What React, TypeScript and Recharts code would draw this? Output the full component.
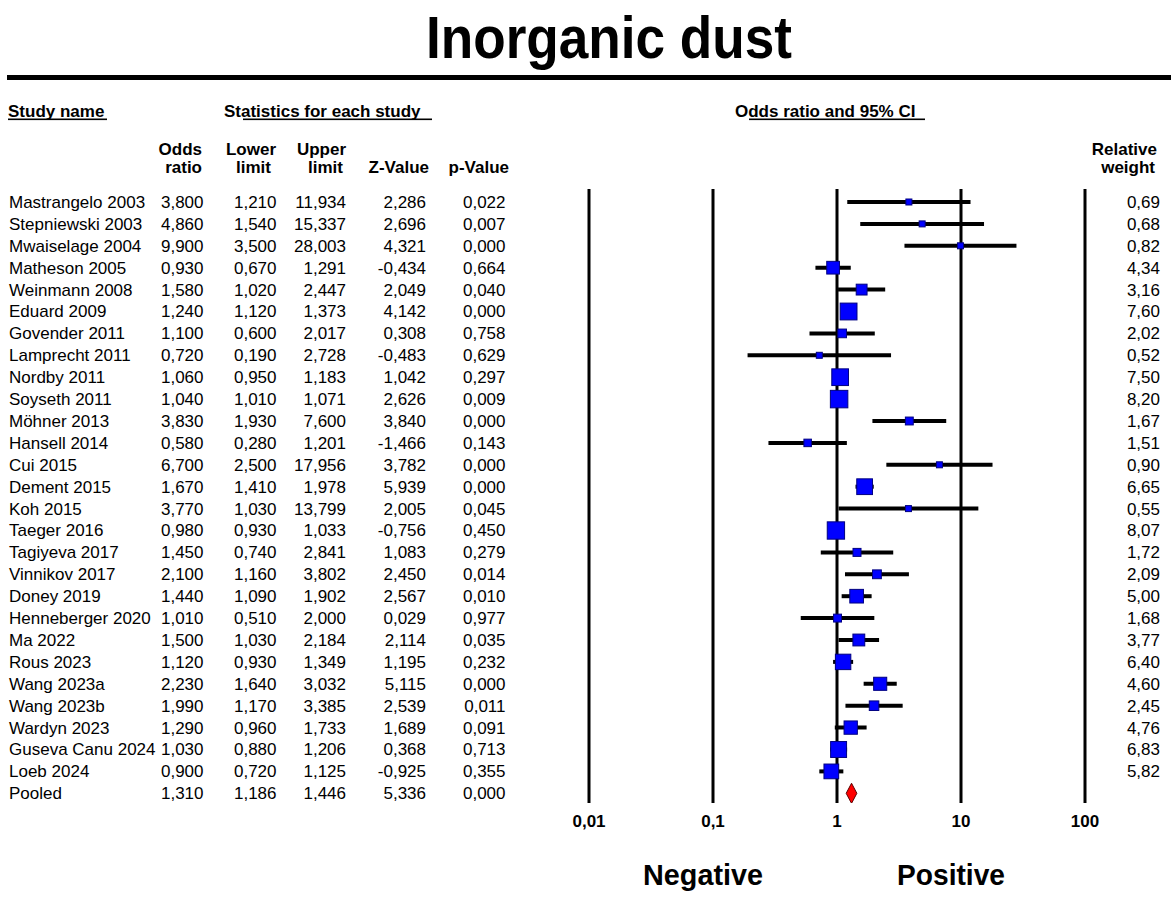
import React from 'react';
import { ScatterChart, Scatter, XAxis, YAxis, ErrorBar, ReferenceLine, Customized } from 'recharts';

const FONT = '"Liberation Sans", Arial, Helvetica, sans-serif';

const studies = [
  'Mastrangelo 2003', 'Stepniewski 2003', 'Mwaiselage 2004', 'Matheson 2005', 'Weinmann 2008',
  'Eduard 2009', 'Govender 2011', 'Lamprecht 2011', 'Nordby 2011', 'Soyseth 2011',
  'Möhner 2013', 'Hansell 2014', 'Cui 2015', 'Dement 2015', 'Koh 2015',
  'Taeger 2016', 'Tagiyeva 2017', 'Vinnikov 2017', 'Doney 2019', 'Henneberger 2020',
  'Ma 2022', 'Rous 2023', 'Wang 2023a', 'Wang 2023b', 'Wardyn 2023',
  'Guseva Canu 2024', 'Loeb 2024', 'Pooled',
];
const oddsRatio = [
  3.8, 4.86, 9.9, 0.93, 1.58, 1.24, 1.1, 0.72, 1.06, 1.04,
  3.83, 0.58, 6.7, 1.67, 3.77, 0.98, 1.45, 2.1, 1.44, 1.01,
  1.5, 1.12, 2.23, 1.99, 1.29, 1.03, 0.9, 1.31,
];
const lowerLimit = [
  1.21, 1.54, 3.5, 0.67, 1.02, 1.12, 0.6, 0.19, 0.95, 1.01,
  1.93, 0.28, 2.5, 1.41, 1.03, 0.93, 0.74, 1.16, 1.09, 0.51,
  1.03, 0.93, 1.64, 1.17, 0.96, 0.88, 0.72, 1.186,
];
const upperLimit = [
  11.934, 15.337, 28.003, 1.291, 2.447, 1.373, 2.017, 2.728, 1.183, 1.071,
  7.6, 1.201, 17.956, 1.978, 13.799, 1.033, 2.841, 3.802, 1.902, 2.0,
  2.184, 1.349, 3.032, 3.385, 1.733, 1.206, 1.125, 1.446,
];
const zValue = [
  2.286, 2.696, 4.321, -0.434, 2.049, 4.142, 0.308, -0.483, 1.042, 2.626,
  3.84, -1.466, 3.782, 5.939, 2.005, -0.756, 1.083, 2.45, 2.567, 0.029,
  2.114, 1.195, 5.115, 2.539, 1.689, 0.368, -0.925, 5.336,
];
const pValue = [
  0.022, 0.007, 0.0, 0.664, 0.04, 0.0, 0.758, 0.629, 0.297, 0.009,
  0.0, 0.143, 0.0, 0.0, 0.045, 0.45, 0.279, 0.014, 0.01, 0.977,
  0.035, 0.232, 0.0, 0.011, 0.091, 0.713, 0.355, 0.0,
];
const relWeight = [
  0.69, 0.68, 0.82, 4.34, 3.16, 7.6, 2.02, 0.52, 7.5, 8.2,
  1.67, 1.51, 0.9, 6.65, 0.55, 8.07, 1.72, 2.09, 5.0, 1.68,
  3.77, 6.4, 4.6, 2.45, 4.76, 6.83, 5.82,
];
const axisTicks = [0.01, 0.1, 1, 10, 100];

const rowIdx = studies.map((_, i) => i);
const pooled = studies.length - 1;

const studyRows = relWeight.map((w, i) => ({
  x: oddsRatio[i],
  y: i,
  err: [oddsRatio[i] - lowerLimit[i], upperLimit[i] - oddsRatio[i]],
  w,
}));

const diamond = [
  { x: lowerLimit[pooled], y: pooled },
  { x: oddsRatio[pooled], y: pooled - 0.46 },
  { x: upperLimit[pooled], y: pooled },
  { x: oddsRatio[pooled], y: pooled + 0.46 },
  { x: lowerLimit[pooled], y: pooled },
];

const fmt3 = (v: number) => v.toFixed(3).replace('.', ',');
const fmt2 = (v: number) => v.toFixed(2).replace('.', ',');

function RowTick(props: any) {
  const i = props.payload.value as number;
  const base = props.y + 6;
  return (
    <g fontFamily={FONT} fontSize={17} fill="#000">
      <text x={9} y={base}>{studies[i]}</text>
      <text x={203.5} y={base} textAnchor="end">{fmt3(oddsRatio[i])}</text>
      <text x={276.5} y={base} textAnchor="end">{fmt3(lowerLimit[i])}</text>
      <text x={346} y={base} textAnchor="end">{fmt3(upperLimit[i])}</text>
      <text x={426} y={base} textAnchor="end">{fmt3(zValue[i])}</text>
      <text x={505.5} y={base} textAnchor="end">{fmt3(pValue[i])}</text>
      {relWeight[i] !== undefined && (
        <text x={1160} y={base} textAnchor="end">{fmt2(relWeight[i])}</text>
      )}
    </g>
  );
}

function Square(props: any) {
  const { cx, cy, payload } = props;
  const s = Math.max(6, 6.1 * Math.sqrt(payload.w));
  return <rect x={cx - s / 2} y={cy - s / 2} width={s} height={s} fill="#0000ff" stroke="#000080" strokeWidth={1} />;
}

function Headers() {
  const bold = { fontFamily: FONT, fontSize: 17, fontWeight: 'bold', fill: '#000' } as const;
  return (
    <g>
      <text x={609} y={58} textAnchor="middle" fontFamily={FONT} fontSize={60} fontWeight="bold"
        textLength={366} lengthAdjust="spacingAndGlyphs" fill="#000">Inorganic dust</text>
      <rect x={7} y={75} width={1164} height={5} fill="#000" />

      <text x={8} y={117} {...bold}>Study name</text>
      <text x={224} y={117} {...bold}>Statistics for each study</text>
      <text x={735} y={117} {...bold}>Odds ratio and 95% CI</text>
      <rect x={8} y={118.5} width={99} height={1.6} fill="#000" />
      <rect x={243} y={118.5} width={189} height={1.6} fill="#000" />
      <rect x={749} y={118.5} width={176} height={1.6} fill="#000" />

      <text x={202} y={155} textAnchor="end" {...bold}>Odds</text>
      <text x={276} y={155} textAnchor="end" {...bold}>Lower</text>
      <text x={346} y={155} textAnchor="end" {...bold}>Upper</text>
      <text x={1157} y={155} textAnchor="end" {...bold}>Relative</text>
      <text x={202} y={173} textAnchor="end" {...bold}>ratio</text>
      <text x={271} y={173} textAnchor="end" {...bold}>limit</text>
      <text x={343} y={173} textAnchor="end" {...bold}>limit</text>
      <text x={429} y={173} textAnchor="end" {...bold}>Z-Value</text>
      <text x={509} y={173} textAnchor="end" {...bold}>p-Value</text>
      <text x={1155} y={173} textAnchor="end" {...bold}>weight</text>

      <text x={703} y={885} textAnchor="middle" fontFamily={FONT} fontSize={30} fontWeight="bold"
        textLength={120} lengthAdjust="spacingAndGlyphs" fill="#000">Negative</text>
      <text x={951} y={885} textAnchor="middle" fontFamily={FONT} fontSize={30} fontWeight="bold"
        textLength={108} lengthAdjust="spacingAndGlyphs" fill="#000">Positive</text>
    </g>
  );
}

export default function App() {
  return (
    <div style={{ position: 'absolute', left: 0, top: 0, width: 1171, height: 914, background: '#fff' }}>
      <ScatterChart width={1171} height={914} margin={{ top: 189, right: 86, bottom: 81, left: 0 }}>
        <XAxis
          dataKey="x"
          type="number"
          scale="log"
          domain={[0.01, 100]}
          allowDataOverflow
          ticks={axisTicks}
          interval={0}
          tickFormatter={(v: number) => String(v).replace('.', ',')}
          tick={{ fill: '#000', fontSize: 17, fontWeight: 'bold', fontFamily: FONT }}
          axisLine={false}
          tickLine={false}
          tickSize={0}
          tickMargin={12}
          height={30}
        />
        <YAxis
          dataKey="y"
          type="number"
          domain={[-0.5936, 27.443]}
          allowDataOverflow
          reversed
          ticks={rowIdx}
          interval={0}
          tick={(p: any) => <RowTick {...p} />}
          axisLine={false}
          tickLine={false}
          width={589}
        />
        {axisTicks.map((t) => (
          <ReferenceLine key={t} x={t} stroke="#000" strokeWidth={3} />
        ))}
        <Scatter data={studyRows} shape={() => <g />} isAnimationActive={false}>
          <ErrorBar dataKey="err" direction="x" width={0} stroke="#000" strokeWidth={4} isAnimationActive={false} />
        </Scatter>
        <Scatter data={studyRows} shape={Square} isAnimationActive={false} />
        <Scatter
          data={diamond}
          shape={() => <g />}
          line={{ stroke: '#5a0000', strokeWidth: 1, fill: '#ff0000' }}
          lineType="joint"
          isAnimationActive={false}
        />
        <Customized component={<Headers />} />
      </ScatterChart>
    </div>
  );
}
